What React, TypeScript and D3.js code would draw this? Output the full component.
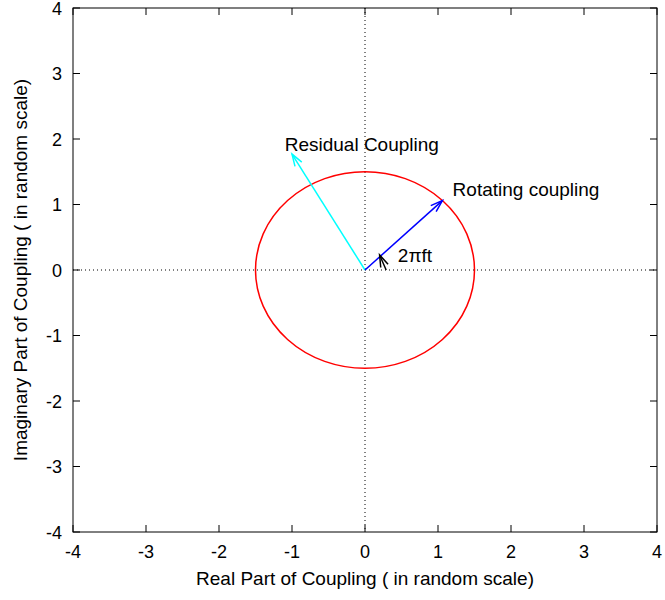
import React from 'react';
import { scaleLinear } from 'd3';

// axis ticks
const xTicks = [-4, -3, -2, -1, 0, 1, 2, 3, 4];
const yTicks = [-4, -3, -2, -1, 0, 1, 2, 3, 4];

// rotating coupling circle (radius in data units)
const circleRadius = 1.5;

// vectors drawn from the origin
const vectorNames = ['Residual Coupling', 'Rotating coupling'];
const vectorX = [-1.0, 1.06];
const vectorY = [1.77, 1.06];
const vectorColors = ['#00ffff', '#0000ff'];

// text labels
const labelTexts = ['Residual Coupling', 'Rotating coupling', '2\u03c0ft'];
const labelX = [-1.1, 1.2, 0.45];
const labelY = [1.89, 1.2, 0.2];

// small angle arrow
const angleFrom = [0.29, 0.0];
const angleTo = [0.2, 0.23];

function App() {
  const width = 665;
  const height = 600;
  const margin = { left: 73, right: 8, top: 8, bottom: 68 };
  const innerW = width - margin.left - margin.right;
  const innerH = height - margin.top - margin.bottom;
  const font = '"Liberation Sans", Arial, Helvetica, sans-serif';

  const x = scaleLinear().domain([-4, 4]).range([0, innerW]);
  const y = scaleLinear().domain([-4, 4]).range([innerH, 0]);
  const tickLen = 7;

  return (
    <svg width={width} height={height} style={{ position: 'absolute', left: 0, top: 0 }}
      fontFamily={font} fontSize={19}>
      <defs>
        {vectorColors.concat(['#000000']).map((c, i) => (
          <marker key={i} id={`head${i}`} markerUnits="userSpaceOnUse" markerWidth={20} markerHeight={20}
            refX={0} refY={0} viewBox="-14 -10 20 20" orient="auto">
            <path d="M-12,-4 L0,0 L-12,4" fill="none" stroke={c} strokeWidth={1.5} />
          </marker>
        ))}
      </defs>
      <g transform={`translate(${margin.left},${margin.top})`}>
        {/* zero axes */}
        <line x1={x(0)} x2={x(0)} y1={0} y2={innerH} stroke="#000" strokeWidth={1} strokeDasharray="1,3" />
        <line x1={0} x2={innerW} y1={y(0)} y2={y(0)} stroke="#000" strokeWidth={1} strokeDasharray="1,3" />

        {/* ticks, mirrored */}
        {xTicks.map(t => (
          <g key={'xt' + t}>
            <line x1={x(t)} x2={x(t)} y1={innerH} y2={innerH - tickLen} stroke="#000" />
            <line x1={x(t)} x2={x(t)} y1={0} y2={tickLen} stroke="#000" />
            <text x={x(t)} y={innerH + 26} textAnchor="middle" fontSize={18}>{t}</text>
          </g>
        ))}
        {yTicks.map(t => (
          <g key={'yt' + t}>
            <line x1={0} x2={tickLen} y1={y(t)} y2={y(t)} stroke="#000" />
            <line x1={innerW} x2={innerW - tickLen} y1={y(t)} y2={y(t)} stroke="#000" />
            <text x={-11} y={y(t) + 6.5} textAnchor="end" fontSize={18}>{t}</text>
          </g>
        ))}

        {/* circle */}
        <ellipse cx={x(0)} cy={y(0)} rx={x(circleRadius) - x(0)} ry={y(0) - y(circleRadius)}
          fill="none" stroke="#ff0000" strokeWidth={1.5} />

        {/* vectors */}
        {vectorNames.map((n, i) => (
          <line key={n} x1={x(0)} y1={y(0)} x2={x(vectorX[i])} y2={y(vectorY[i])}
            stroke={vectorColors[i]} strokeWidth={1.5} markerEnd={`url(#head${i})`} />
        ))}

        {/* angle arrow */}
        <line x1={x(angleFrom[0])} y1={y(angleFrom[1])} x2={x(angleTo[0])} y2={y(angleTo[1])}
          stroke="#000" strokeWidth={1.5} markerEnd="url(#head2)" />

        {/* labels */}
        {labelTexts.map((l, i) => (
          <text key={l} x={x(labelX[i])} y={y(labelY[i])} dominantBaseline="middle" fill="#000">{l}</text>
        ))}

        {/* frame */}
        <rect x={0} y={0} width={innerW} height={innerH} fill="none" stroke="#000" strokeWidth={1} />

        {/* axis titles */}
        <text x={innerW / 2} y={innerH + 53} textAnchor="middle">Real Part of Coupling ( in random scale)</text>
        <text transform={`translate(${-margin.left + 27},${innerH / 2}) rotate(-90)`} textAnchor="middle">
          Imaginary Part of Coupling ( in random scale)
        </text>
      </g>
    </svg>
  );
}

export default App;
